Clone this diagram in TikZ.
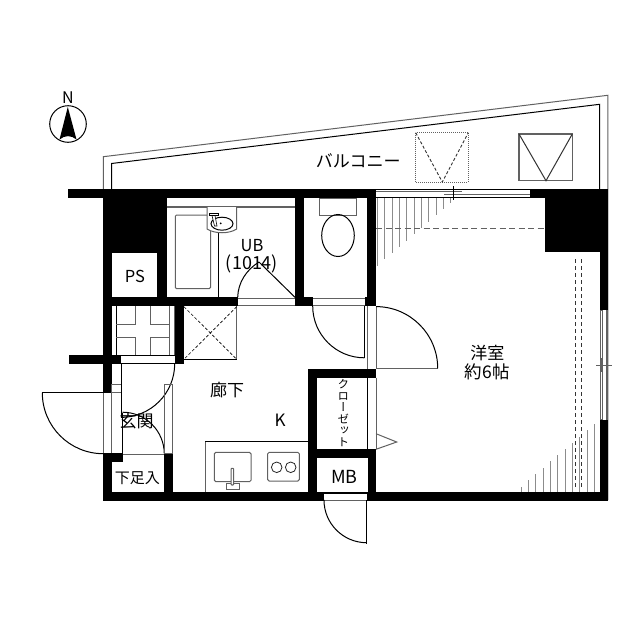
\documentclass[tikz,border=0pt]{standalone}
\usepackage{fontspec}
\setmainfont{Noto Sans CJK JP}
\newfontfamily\vertfont[RawFeature=+vert]{Noto Sans CJK JP}
\newcommand{\fsz}[1]{\fontsize{#1}{#1}\selectfont}
\definecolor{gl}{gray}{0.38}
\definecolor{hatch}{gray}{0.55}
\tikzset{
  wall/.style={fill=black,draw=none},
  thin line/.style={draw=black,line width=1pt},
  gray line/.style={draw=gl,line width=1pt},
  hatch line/.style={draw=hatch,line width=1pt},
  label/.style={inner sep=0pt,text=black},
}
\begin{document}
\begin{tikzpicture}[x=1pt,y=-1pt]
\useasboundingbox (0,0) rectangle (640,640);
\fill[white] (0,0) rectangle (640,640);
% compass
\draw[thin line] (68,124) circle (18.3);
\fill[black] (67.8,107) -- (76.5,139.5) .. controls (71,135) and (65,135) .. (59.5,139.5) -- cycle;
\node[label,font=\fsz{16}] (north) at (67.8,97.3) {N};
% balcony
\draw[gray line] (103.3,189) -- (103.3,156.7) -- (607.8,95.3) -- (607.8,500);
\draw[thin line] (111.5,189) -- (111.5,163.5) -- (599.7,104.3) -- (599.7,189);
% air units on the balcony
\draw[gl,line width=1pt,densely dotted] (415.7,132.7) rectangle (468.3,182);
\draw[black!80,line width=0.9pt,densely dashed] (415.7,132.7) -- (442.3,182) -- (468.3,132.7);
\draw[gl,line width=1.2pt] (519,134) rectangle (572.3,180.7);
\draw[black!80,line width=1pt] (519,134) -- (546,180.7) -- (572.3,134);
% hatching, upper left of room
\foreach \hx/\hy in {377.3/265.7,384.7/259.3,392/253.3,399.3/246.7,406.7/240.7,414/234.3,421.3/227.7,428.7/221.7,436/215.3,443.3/209,450.7/202.7}
  \draw[hatch line] (\hx,197) -- (\hx,\hy);
% hatching, lower right of room
\foreach \hx/\hy in {521/486.7,528.3/480.3,535.7/474,543/468,550.3/461.3,557.7/455.3,565/449,572.3/442.7,579.7/436.7,587/430,594.3/424}
  \draw[hatch line] (\hx,492) -- (\hx,\hy);
% dashed lines in room
\draw[gl,line width=1.1pt,dash pattern=on 6pt off 3.5pt] (376,228.7) -- (545,228.7);
\draw[black!80,line width=0.9pt,dash pattern=on 4pt off 3pt] (575.3,259.3) -- (575.3,487);
\draw[black!80,line width=0.9pt,dash pattern=on 4pt off 3pt] (581.7,259.3) -- (581.7,487);
% walls
\fill[wall] (68,189) rectangle (376,198);
\fill[wall] (530,189) rectangle (607.5,197.5);
\fill[wall] (544.7,189) rectangle (607.5,252.3);
\fill[wall] (599.7,189) rectangle (607.5,310);
\fill[wall] (599.7,419.5) rectangle (607.5,500.7);
\fill[wall] (103,492) rectangle (607.5,500.7);
\fill[wall] (103,189) rectangle (166.7,253);
\fill[wall] (103,189) rectangle (111.5,392.7);
\fill[wall] (157.3,253) rectangle (166.7,306);
\fill[wall] (103,297.3) rectangle (237.5,306);
\fill[wall] (295,189) rectangle (304,306);
\fill[wall] (295,297.3) rectangle (313,306);
\fill[wall] (364.5,297.3) rectangle (376,306);
\fill[wall] (367,189) rectangle (376,306);
\fill[wall] (68.7,355) rectangle (121,363.7);
\fill[wall] (175,306) rectangle (184,363.7);
\fill[wall] (103,453.3) rectangle (122.7,462.3);
\fill[wall] (103,453) rectangle (111.7,500);
\fill[wall] (164.3,454) rectangle (173.3,500);
\fill[wall] (308.3,369) rectangle (376,377.5);
\fill[wall] (308.3,369) rectangle (317.3,500);
\fill[wall] (308.3,449.3) rectangle (376,457.7);
\fill[wall] (367.7,449.3) rectangle (376,500);
% top window
\draw[thin line] (376,189.3) -- (530,189.3);
\draw[thin line] (376,197.2) -- (530,197.2);
\draw[gl,line width=1pt] (376,191.7) -- (461.7,191.7);
\draw[gl,line width=1pt] (444,194.3) -- (530,194.3);
\draw[thin line] (453.3,186) -- (453.3,200);
% right window
\fill[white] (600,310) rectangle (607.5,419.5);
\draw[gl,line width=1pt] (600.5,310) rectangle (602.3,419.5);
\draw[gl,line width=1.3pt] (607,310) -- (607,419.5);
\draw[gl,line width=1pt] (596,365) -- (611.7,365);
\draw[gl,line width=1pt] (601.7,358) -- (601.7,372);
% bathroom
\draw[gl,line width=1.2pt] (166.7,207) -- (295,207);
\draw[gl,line width=1pt,rounded corners=1.2pt] (175.3,215) rectangle (210.5,288.6);
\draw[thin line] (218.5,232) -- (218.5,297.3);
\fill[white,draw=gl,line width=1pt] (207,207) -- (207,229) .. controls (215,234) and (229,234) .. (236.7,229) -- (236.7,207);
\draw[thin line] (222,223.7) ellipse (11 and 6.5);
\fill[black] (220.7,223.3) circle (1);
\draw[black,line width=0.6pt,fill=white] (209.3,213) rectangle (218.3,215.5);
\draw[black,line width=0.6pt,fill=white] (212,215.5) -- (214.5,226) -- (217,226) -- (215,215.5) -- cycle;
\draw[gl,line width=1pt] (237.5,298) -- (295,298) (237.5,305.7) -- (295,305.7);
\draw[thin line] (295,297.3) -- (259,262);
\draw[thin line] (237.7,297.3) .. controls (238,283) and (246,270) .. (259,262);
% toilet
\draw[gl,line width=1pt,fill=white] (319.5,198) rectangle (356.7,215);
\draw[thin line] (338,235.5) ellipse (16.3 and 21);
\draw[gl,line width=1pt] (313,298) -- (364.5,298) (313,305.7) -- (364.5,305.7);
\draw[thin line] (364.5,306) -- (364.5,357.7);
\draw[thin line] (312.7,306) arc[start angle=180,end angle=90,radius=51.8];
% room door
\draw[gl,line width=1pt] (367.7,306) -- (367.7,369);
\draw[gl,line width=1pt] (376,306) -- (376,369);
\draw[gray line] (376,368.3) -- (437.7,368.3);
\draw[thin line] (437.7,368.3) arc[start angle=0,end angle=-90,radius=61.7];
% closet
\draw[thin line] (367.7,377.5) -- (367.7,449.3);
\draw[gl,line width=1pt] (376,377.5) -- (376,449.3);
\draw[gl,line width=1pt] (376,433.7) -- (396.7,442) -- (376,449.3);
% MB door
\fill[white] (324,493.7) rectangle (366.7,500);
\draw[gl,line width=1pt] (324,500.2) -- (366.7,500.2);
\draw[thin line] (366.7,500) -- (366.7,543.5);
\draw[thin line] (324,500) arc[start angle=180,end angle=90,radius=42.7];
% laundry pan
\draw[thin line] (116.3,306) -- (116.3,355);
\draw[gl,line width=1pt] (169.3,306) -- (169.3,355);
\draw[gl,line width=1pt] (174.4,306) -- (174.4,355);
\draw[gl,line width=1pt] (135.3,306) -- (135.3,324) -- (116.3,324) (150.7,306) -- (150.7,324) -- (169.3,324);
\draw[gl,line width=1pt] (135.3,355) -- (135.3,337.7) -- (116.3,337.7) (150.7,355) -- (150.7,337.7) -- (169.3,337.7);
% entrance sill
\draw[thin line] (121,355.5) -- (175,355.5);
\draw[thin line] (121,363.5) -- (175,363.5);
% cupboard with dashed cross
\draw[gl,line width=1pt] (236.7,306) -- (236.7,359.3);
\draw[thin line] (184,359.3) -- (236.7,359.3);
\draw[black,line width=0.6pt,densely dashed] (184,306.7) -- (236.7,359.3) (236.7,306.7) -- (184,359.3);
% entrance
\fill[white] (103.3,392.7) rectangle (111.5,453.3);
\draw[gl,line width=1pt] (103.3,392.7) -- (103.3,453.3);
\draw[gl,line width=1pt] (111.2,384.3) -- (111.2,453.3);
\draw[gl,line width=1pt] (111.2,384.3) -- (121,384.3) (111.2,392.3) -- (121,392.3);
\draw[thin line] (103.3,392.7) -- (42.3,392.7);
\draw[thin line] (42.3,392.7) arc[start angle=180,end angle=90,radius=61];
\draw[thin line] (121,363.7) -- (121,417);
\draw[thin line] (174.7,363.7) arc[start angle=0,end angle=90,radius=53.7];
\draw[thin line] (122.5,412.5) -- (122.5,454);
\draw[thin line] (164.3,454) arc[start angle=0,end angle=-90,radius=41.8];
\draw[gl,line width=1pt] (164.3,384.3) rectangle (172.7,453.5);
\draw[gl,line width=1pt] (122.7,454) -- (164.3,454);
% kitchen
\draw[thin line] (205,441.7) -- (308.3,441.7);
\draw[gl,line width=1pt] (205,441.7) -- (205,492);
\draw[gl,line width=1pt,rounded corners=1.5pt] (214.3,452.3) rectangle (251,481.7);
\draw[gl,line width=1pt,rounded corners=1.5pt] (267.7,452.3) rectangle (299.3,481);
\draw[gl,line width=1pt,fill=white] (226,483.3) rectangle (239.3,489.3);
\draw[gl,line width=1pt,fill=white,rounded corners=0.8pt] (231,468.3) rectangle (233.7,485);
\draw[black!85,line width=0.8pt] (276.7,467.3) circle (5.3);
\draw[black!85,line width=0.8pt] (290.7,467.3) circle (5.3);
% labels
\node[label,font=\fsz{17}] (balcony) at (358.3,160.7) {バルコニー};
\node[label,font=\fsz{16.5}] (ub) at (252,246) {UB};
\node[label,font=\fsz{18}] (ubsize) at (252,264) {(1014)};
\node[label,font=\fsz{16.5}] (ps) at (135,276.7) {PS};
\node[label,font=\fsz{17}] (room1) at (487.3,353.3) {洋室};
\node[label,font=\fsz{17.5}] (room2) at (487.3,371.7) {約6帖};
\node[label,font=\fsz{17}] (hall) at (227,390) {廊下};
\node[label,font=\fsz{17}] (kitchen) at (280,420.7) {K};
\node[label,font=\fsz{17}] (entry) at (136.7,421) {玄関};
\node[label,font=\fsz{15}] (shoes) at (137.3,477.7) {下足入};
\node[label,font=\fsz{18}] (mb) at (344.3,477) {MB};
\node[label,font=\fsz{11.5}\vertfont,align=center] (closet) at (343.3,413) {ク\\ロ\\ー\\ゼ\\ッ\\ト};
\end{tikzpicture}
\end{document}
